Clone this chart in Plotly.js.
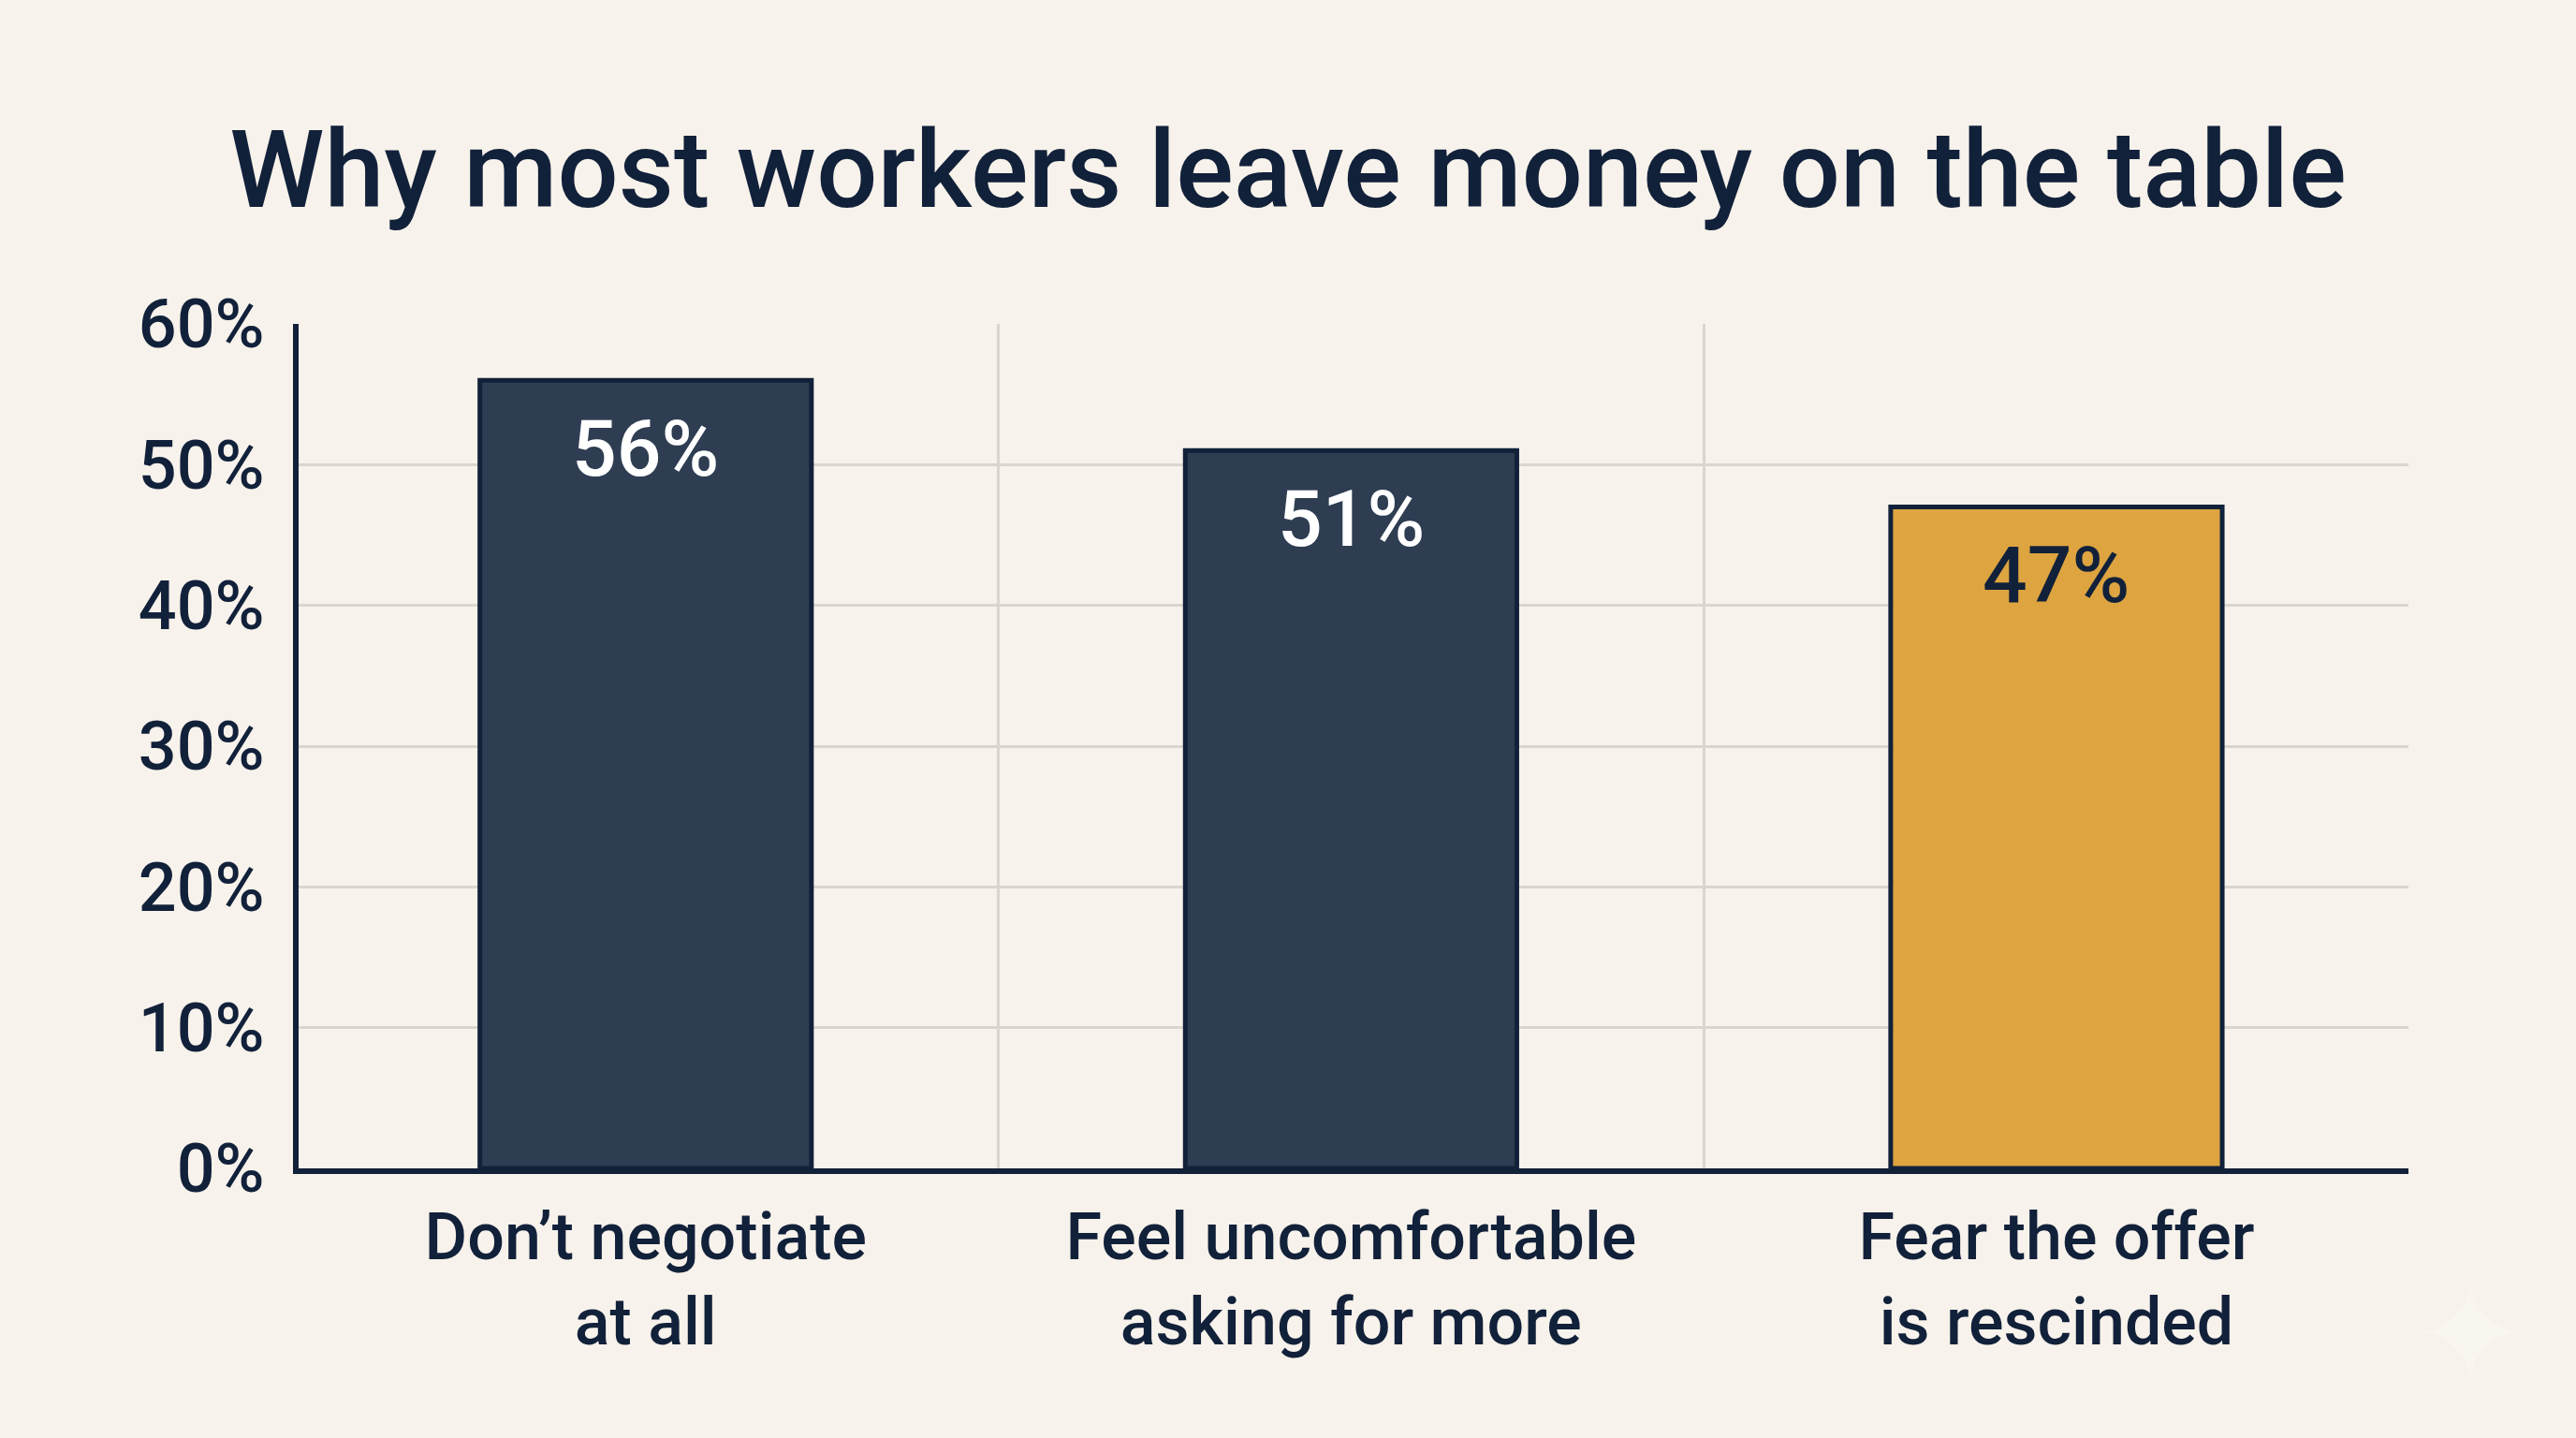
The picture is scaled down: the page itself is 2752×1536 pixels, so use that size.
<!DOCTYPE html>
<html>
<head>
<meta charset="utf-8">
<script src="https://cdn.plot.ly/plotly-3.0.1.min.js"></script>
<style>html,body{margin:0;padding:0;background:#f7f2eb;}</style>
</head>
<body>
<div id="chart"></div>
<script>
const categories = ["Don’t negotiate<br>at all", "Feel uncomfortable<br>asking for more", "Fear the offer<br>is rescinded"];
const shares = [56, 51, 47];
const yTicks = [0, 10, 20, 30, 40, 50, 60];
const yTickLabels = ["0%", "10%", "20%", "30%", "40%", "50%", "60%"];

const ink = "#12213a";
const navy = "#2e3d52";
const gold = "#dda440";
const grid = "#d9d6cf";
const paper = "#f7f2eb";
const fontName = "Roboto, sans-serif";

let trace_share = {
    type: "bar",
    x: categories,
    y: shares,
    width: 0.47,
    marker: {
        color: [navy, navy, gold],
        line: { color: ink, width: 5 },
    },
    hoverinfo: "skip",
};

let labelColors = ["#ffffff", "#ffffff", ink];
let labels = shares.map((v, i) => ({
    x: categories[i],
    y: v,
    text: v + "%",
    showarrow: false,
    yanchor: "top",
    yshift: -22,
    font: { family: fontName, size: 84, color: labelColors[i], weight: 500 },
}));

let layout = {
    autosize: false,
    width: 2752,
    height: 1536,
    margin: { l: 319, r: 179, t: 346, b: 288, pad: 0 },
    paper_bgcolor: paper,
    plot_bgcolor: paper,
    showlegend: false,
    title: {
        text: "Why most workers leave money on the table",
        font: { family: fontName, size: 115, color: ink, weight: 500 },
        x: 0.5,
        xanchor: "center",
        y: 0.882,
        yanchor: "middle",
    },
    xaxis: {
        type: "category",
        range: [-0.492, 2.499],
        tickson: "boundaries",
        ticks: "",
        showgrid: true,
        gridcolor: grid,
        gridwidth: 3,
        showline: true,
        linecolor: ink,
        linewidth: 6,
        zeroline: false,
        ticklabelstandoff: 7,
        tickfont: { family: fontName, size: 70, color: ink, weight: 500 },
    },
    yaxis: {
        range: [0, 60],
        tickvals: yTicks,
        ticktext: yTickLabels,
        ticks: "",
        showgrid: true,
        gridcolor: grid,
        gridwidth: 3,
        showline: true,
        linecolor: ink,
        linewidth: 6,
        zeroline: false,
        ticklabelstandoff: 16,
        tickfont: { family: fontName, size: 72, color: ink, weight: 500 },
    },
    annotations: labels.concat([{
        xref: "paper", yref: "paper",
        x: 1.058, y: -0.295,
        text: "✦",
        showarrow: false,
        font: { family: "DejaVu Sans", size: 150, color: "#f9f6f0" },
    }]),
};

Plotly.newPlot("chart", [trace_share], layout, { responsive: false, displayModeBar: false });
</script>
</body>
</html>
